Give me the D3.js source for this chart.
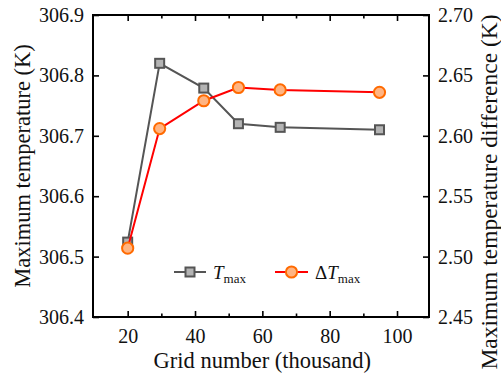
<!DOCTYPE html>
<html>
<head>
<meta charset="utf-8">
<script src="https://cdn.jsdelivr.net/npm/d3@7"></script>
<style>
  body { margin: 0; background: #fff; }
  svg text { font-family: "Liberation Serif", "Times New Roman", serif; fill: #111; }
</style>
</head>
<body>
<div id="chart"></div>
<script>
// grid number (thousand)
const gridNumbers = [20, 29.5, 42.6, 52.9, 65.3, 94.8];
// maximum temperature (K), left axis
const tMax = [306.524, 306.82, 306.779, 306.72, 306.714, 306.71];
// maximum temperature difference (K), right axis
const dTMax = [2.507, 2.606, 2.629, 2.640, 2.638, 2.636];

const xTicks = [20, 40, 60, 80, 100];
const xMinor = [30, 50, 70, 90];
const leftTicks = [306.4, 306.5, 306.6, 306.7, 306.8, 306.9];
const rightTicks = [2.45, 2.50, 2.55, 2.60, 2.65, 2.70];

const margin = { top: 15, right: 72, bottom: 57, left: 93 };
const W = 501, H = 374;
const width = W - margin.left - margin.right,
      height = H - margin.top - margin.bottom;

const svg = d3.select("#chart").append("svg")
    .attr("width", W)
    .attr("height", H);

const g = svg.append("g")
    .attr("transform", `translate(${margin.left},${margin.top})`);

const x = d3.scaleLinear().domain([9.7, 109.5]).range([0, width]);
const yL = d3.scaleLinear().domain([306.4, 306.9]).range([height, 0]);
const yR = d3.scaleLinear().domain([2.45, 2.70]).range([height, 0]);

// frame
g.append("rect")
    .attr("width", width)
    .attr("height", height)
    .attr("fill", "none")
    .attr("stroke", "#000")
    .attr("stroke-width", 2);

function styleAxis(sel, fontSize) {
    sel.select(".domain").remove();
    sel.selectAll(".tick line").attr("stroke", "#000").attr("stroke-width", 1.6);
    sel.selectAll(".tick text")
        .attr("font-size", fontSize)
        .attr("fill", "#111");
}

// bottom axis, inward ticks
g.append("g")
    .attr("transform", `translate(0,${height})`)
    .call(d3.axisBottom(x).tickValues(xTicks).tickSizeInner(-6).tickPadding(12).tickFormat(d3.format("d")))
    .call(s => styleAxis(s, "20px"));
g.append("g")
    .attr("transform", `translate(0,${height})`)
    .call(d3.axisBottom(x).tickValues(xMinor).tickSizeInner(-3.5).tickFormat(""))
    .call(s => styleAxis(s, "0px"));

// top axis, ticks only
g.append("g")
    .call(d3.axisTop(x).tickValues(xTicks).tickSizeInner(-6).tickFormat(""))
    .call(s => styleAxis(s, "0px"));
g.append("g")
    .call(d3.axisTop(x).tickValues(xMinor).tickSizeInner(-3.5).tickFormat(""))
    .call(s => styleAxis(s, "0px"));

// left axis
g.append("g")
    .call(d3.axisLeft(yL).tickValues(leftTicks).tickSizeInner(-6).tickPadding(9).tickFormat(d3.format(".1f")))
    .call(s => styleAxis(s, "20px"));

// right axis
g.append("g")
    .attr("transform", `translate(${width},0)`)
    .call(d3.axisRight(yR).tickValues(rightTicks).tickSizeInner(-6).tickPadding(9).tickFormat(d3.format(".2f")))
    .call(s => styleAxis(s, "20px"));

// axis titles
svg.append("text")
    .attr("x", margin.left + x(60))
    .attr("y", 368)
    .attr("text-anchor", "middle")
    .attr("font-size", "22.5px")
    .text("Grid number (thousand)");

svg.append("text")
    .attr("transform", `translate(30,${margin.top + height / 2}) rotate(-90)`)
    .attr("text-anchor", "middle")
    .attr("font-size", "22.5px")
    .text("Maximum temperature (K)");

svg.append("text")
    .attr("transform", `translate(497,192) rotate(-90)`)
    .attr("text-anchor", "middle")
    .attr("font-size", "23.5px")
    .text("Maximum temperature difference (K)");

// series
const tData = gridNumbers.map((d, i) => ({ x: d, y: tMax[i] }));
const dData = gridNumbers.map((d, i) => ({ x: d, y: dTMax[i] }));

const grayLine = "#555555", grayFill = "#b4b4b4";
const redLine = "#ff0000", orangeStroke = "#ff6a00", orangeFill = "#ffb482";

g.append("path")
    .datum(tData)
    .attr("fill", "none")
    .attr("stroke", grayLine)
    .attr("stroke-width", 2)
    .attr("d", d3.line().x(d => x(d.x)).y(d => yL(d.y)));

const sq = 9;
g.selectAll(".sq")
    .data(tData)
    .enter()
    .append("rect")
    .attr("class", "sq")
    .attr("x", d => x(d.x) - sq / 2)
    .attr("y", d => yL(d.y) - sq / 2)
    .attr("width", sq)
    .attr("height", sq)
    .attr("fill", grayFill)
    .attr("stroke", grayLine)
    .attr("stroke-width", 2);

g.append("path")
    .datum(dData)
    .attr("fill", "none")
    .attr("stroke", redLine)
    .attr("stroke-width", 2)
    .attr("d", d3.line().x(d => x(d.x)).y(d => yR(d.y)));

g.selectAll(".dot")
    .data(dData)
    .enter()
    .append("circle")
    .attr("class", "dot")
    .attr("cx", d => x(d.x))
    .attr("cy", d => yR(d.y))
    .attr("r", 5.6)
    .attr("fill", orangeFill)
    .attr("stroke", orangeStroke)
    .attr("stroke-width", 2);

// legend
const leg = svg.append("g").attr("transform", "translate(0,272)");

leg.append("line")
    .attr("x1", 174).attr("x2", 206)
    .attr("stroke", grayLine).attr("stroke-width", 2);
leg.append("rect")
    .attr("x", 190 - sq / 2).attr("y", -sq / 2)
    .attr("width", sq).attr("height", sq)
    .attr("fill", grayFill).attr("stroke", grayLine).attr("stroke-width", 2);
const t1 = leg.append("text").attr("x", 213).attr("y", 7).attr("font-size", "19px");
t1.append("tspan").attr("font-style", "italic").text("T");
t1.append("tspan").attr("font-size", "13px").attr("dy", 4).text("max");

leg.append("line")
    .attr("x1", 275).attr("x2", 308)
    .attr("stroke", redLine).attr("stroke-width", 2);
leg.append("circle")
    .attr("cx", 291.5).attr("r", 5.6)
    .attr("fill", orangeFill).attr("stroke", orangeStroke).attr("stroke-width", 2);
const t2 = leg.append("text").attr("x", 315).attr("y", 7).attr("font-size", "19px");
t2.append("tspan").text("Δ");
t2.append("tspan").attr("font-style", "italic").text("T");
t2.append("tspan").attr("font-size", "13px").attr("dy", 4).text("max");
</script>
</body>
</html>
